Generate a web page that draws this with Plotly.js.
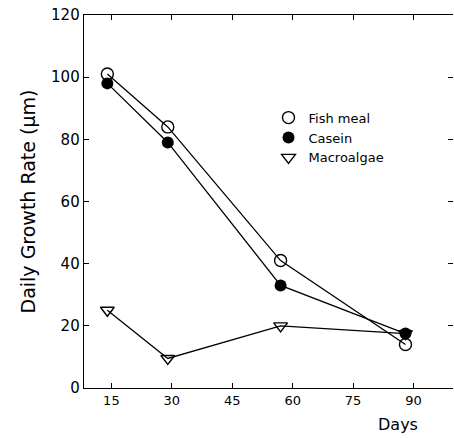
<!DOCTYPE html>
<html><head><meta charset="utf-8">
<script src="https://cdn.plot.ly/plotly-3.0.1.min.js"></script>
<style>html,body{margin:0;padding:0;background:#fff}#chart{width:454px;height:438px}</style>
</head><body><div id="chart"></div>
<script>
const days = [14, 29, 57, 88];
const fishMeal = [101, 84, 41, 14];
const casein = [98, 79, 33, 17.5];
const macroalgae = [25, 9.5, 20, 17.5];
const seriesNames = ["Fish meal", "Casein", "Macroalgae"];
const xTicks = [15, 30, 45, 60, 75, 90];
const yTicks = [0, 20, 40, 60, 80, 100, 120];

const font = "DejaVu Sans, Liberation Sans, sans-serif";
const lineStyle = {color: "#000", width: 1.3};
const markers = [
  {symbol: "circle-open", size: 12, color: "#000", line: {width: 1.4}},
  {symbol: "circle", size: 12, color: "#000"},
  {symbol: "triangle-down-open", size: 12, color: "#000", line: {width: 1.4}}
];
const values = [fishMeal, casein, macroalgae];
const traces = [];
values.forEach((v, i) => {
  traces.push({x: days, y: v, mode: "lines", line: lineStyle, showlegend: false, hoverinfo: "skip"});
});
values.forEach((v, i) => {
  traces.push({x: days, y: v, name: seriesNames[i], mode: "markers", marker: markers[i]});
});
traces.push({x: days, y: fishMeal, yaxis: "y2", mode: "markers", marker: {opacity: 0},
             showlegend: false, hoverinfo: "skip"});

const layout = {
  width: 454, height: 438,
  margin: {l: 84, r: 1, t: 15, b: 50},
  paper_bgcolor: "#fff", plot_bgcolor: "#fff",
  font: {family: font, color: "#000", size: 12},
  showlegend: true,
  legend: {x: 0.5, y: 0.765, xanchor: "left", yanchor: "top", bgcolor: "rgba(0,0,0,0)",
           font: {size: 13, family: font}, tracegroupgap: 0, itemwidth: 30},
  xaxis: {range: [8.2, 99.8], tickvals: xTicks, ticktext: xTicks.map(String),
          showline: true, linecolor: "#000", linewidth: 1.3, mirror: "ticks",
          ticks: "inside", ticklen: 5, tickcolor: "#000", showgrid: false, zeroline: false,
          tickfont: {size: 13}},
  yaxis: {range: [0, 120], tickvals: yTicks, ticktext: yTicks.map(String),
          showline: true, linecolor: "#000", linewidth: 1.3,
          ticks: "inside", ticklen: 5, tickcolor: "#000", showgrid: false, zeroline: false,
          tickfont: {size: 15},
          title: {text: "Daily Growth Rate (μm)", font: {size: 19}, standoff: 10}},
  yaxis2: {overlaying: "y", side: "right", range: [0, 120], tickvals: yTicks,
           showticklabels: false, showline: false, ticks: "inside", ticklen: 5,
           tickcolor: "#000", showgrid: false, zeroline: false},
  annotations: [{text: "Days", xref: "paper", yref: "paper", x: 0.851, y: -0.098,
                 xanchor: "center", yanchor: "middle", showarrow: false, font: {size: 16}}]
};
Plotly.newPlot("chart", traces, layout, {displayModeBar: false, staticPlot: true});
</script></body></html>
